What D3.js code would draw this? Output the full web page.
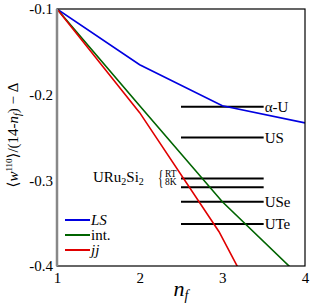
<!DOCTYPE html>
<html>
<head>
<meta charset="utf-8">
<script src="https://cdn.jsdelivr.net/npm/d3@7"></script>
<style>
  body { margin: 0; background: #fff; }
  svg text { font-family: 'Liberation Serif', 'Times New Roman', 'DejaVu Serif', serif !important; }
</style>
</head>
<body>
<div id="chart"></div>
<script>
// data
var nf = [1, 2, 3, 4]
var lsValues = [-0.1, -0.165, -0.213, -0.233]
var intValues = [-0.1, -0.213, -0.325, -0.418]
var jjKink = [[1, -0.1], [2, -0.221], [2.96, -0.36], [4, -0.55]]

var compounds = ['α-U', 'US', 'RT', '8K', 'USe', 'UTe']
var compoundValues = [-0.214, -0.25, -0.298, -0.308, -0.325, -0.351]

var xTicks = [1, 2, 3, 4]
var yTicks = [-0.1, -0.2, -0.3, -0.4]

var serif = "'Liberation Serif', 'Times New Roman', serif"

var margin = { top: 9, left: 57, right: 10, bottom: 39 }
var width = 315 - margin.left - margin.right
var height = 305 - margin.top - margin.bottom

var svg = d3.select('#chart')
  .append('svg')
  .attr('width', 315)
  .attr('height', 305)
  .attr('font-family', serif)

var g = svg.append('g')
  .attr('transform', 'translate(' + margin.left + ',' + margin.top + ')')

const xPositionScale = d3.scaleLinear().domain([1, 4]).range([0, width])
const yPositionScale = d3.scaleLinear().domain([-0.4, -0.1]).range([height, 0])

g.append('clipPath')
  .attr('id', 'clip')
  .append('rect')
  .attr('width', width)
  .attr('height', height)

var line = d3.line()
  .x(d => xPositionScale(d[0]))
  .y(d => yPositionScale(d[1]))

var series = [
  { name: 'LS', color: '#0000e0', pts: nf.map((n, i) => [n, lsValues[i]]) },
  { name: 'int.', color: '#006400', pts: nf.map((n, i) => [n, intValues[i]]) },
  { name: 'jj', color: '#e00000', pts: jjKink }
]

// horizontal reference lines for the compounds
compounds.forEach(function(c, i) {
  g.append('line')
    .attr('x1', xPositionScale(2.5))
    .attr('x2', xPositionScale(3.5))
    .attr('y1', yPositionScale(compoundValues[i]))
    .attr('y2', yPositionScale(compoundValues[i]))
    .attr('stroke', 'black')
    .attr('stroke-width', 2)
  if (c !== 'RT' && c !== '8K') {
    g.append('text')
      .text(c)
      .attr('x', xPositionScale(3.5) + 1)
      .attr('y', yPositionScale(compoundValues[i]))
      .attr('dy', '0.35em')
      .attr('font-size', 15)
  }
})

// URu2Si2 label with brace
var uru = g.append('text')
  .attr('x', 36)
  .attr('y', 173)
  .attr('font-size', 15)
uru.append('tspan').text('URu')
uru.append('tspan').text('2').attr('font-size', 10).attr('dy', 3)
uru.append('tspan').text('Si').attr('dy', -3)
uru.append('tspan').text('2').attr('font-size', 10).attr('dy', 3)
g.append('text')
  .text('{')
  .attr('transform', 'translate(101,175) scale(0.75,1.35)')
  .attr('font-size', 15)
g.append('text')
  .text('RT')
  .attr('x', 108)
  .attr('y', 167.5)
  .attr('font-size', 9.5)
g.append('text')
  .text('8K')
  .attr('x', 108)
  .attr('y', 176)
  .attr('font-size', 9.5)

// curves
series.forEach(function(s) {
  g.append('path')
    .datum(s.pts)
    .attr('d', line)
    .attr('fill', 'none')
    .attr('stroke', s.color)
    .attr('stroke-width', 1.6)
    .attr('clip-path', 'url(#clip)')
})

// frame
g.append('rect')
  .attr('width', width)
  .attr('height', height)
  .attr('fill', 'none')
  .attr('stroke', 'black')
  .attr('stroke-width', 1.2)
g.append('line')
  .attr('x1', 0).attr('x2', 0)
  .attr('y1', 0).attr('y2', height)
  .attr('stroke', '#888')
  .attr('stroke-width', 2.5)

// axes
var xAxis = d3.axisBottom(xPositionScale).tickValues(xTicks).tickSize(0).tickPadding(6).tickFormat(d3.format('d'))
g.append('g')
  .attr('class', 'axis x-axis')
  .attr('transform', 'translate(0,' + height + ')')
  .call(xAxis)
var yAxis = d3.axisLeft(yPositionScale).tickValues(yTicks).tickSize(0).tickPadding(4).tickFormat(d => d.toFixed(1))
g.append('g')
  .attr('class', 'axis y-axis')
  .call(yAxis)
g.selectAll('.axis').attr('font-family', serif)
g.selectAll('.axis .domain').remove()
g.selectAll('.axis text')
  .attr('font-size', 15)
  .attr('fill', 'black')

// legend
series.forEach(function(s, i) {
  var y = 211 + i * 15
  g.append('line')
    .attr('x1', 8).attr('x2', 33)
    .attr('y1', y).attr('y2', y)
    .attr('stroke', s.color)
    .attr('stroke-width', 2)
  g.append('text')
    .text(s.name)
    .attr('x', 34)
    .attr('y', y)
    .attr('dy', '0.35em')
    .attr('font-size', 15)
    .attr('font-style', s.name === 'int.' ? 'normal' : 'italic')
})

// axis titles
var xt = svg.append('text')
  .attr('x', margin.left + width / 2)
  .attr('y', 296)
  .attr('text-anchor', 'middle')
  .attr('font-size', 22)
  .attr('font-style', 'italic')
xt.append('tspan').text('n')
xt.append('tspan').text('f').attr('font-size', 14).attr('dy', 4)

var yt = svg.append('text')
  .attr('transform', 'translate(18,135) rotate(-90)')
  .attr('text-anchor', 'middle')
  .attr('font-size', 15)
yt.append('tspan').text('⟨')
yt.append('tspan').text('w').attr('font-style', 'italic')
yt.append('tspan').text('110').attr('font-size', 9).attr('dy', -6)
yt.append('tspan').text('⟩/(14-').attr('dy', 6)
yt.append('tspan').text('n').attr('font-style', 'italic')
yt.append('tspan').text('f').attr('font-style', 'italic').attr('font-size', 10).attr('dy', 3)
yt.append('tspan').text(') − Δ').attr('dy', -3)
</script>
</body>
</html>
